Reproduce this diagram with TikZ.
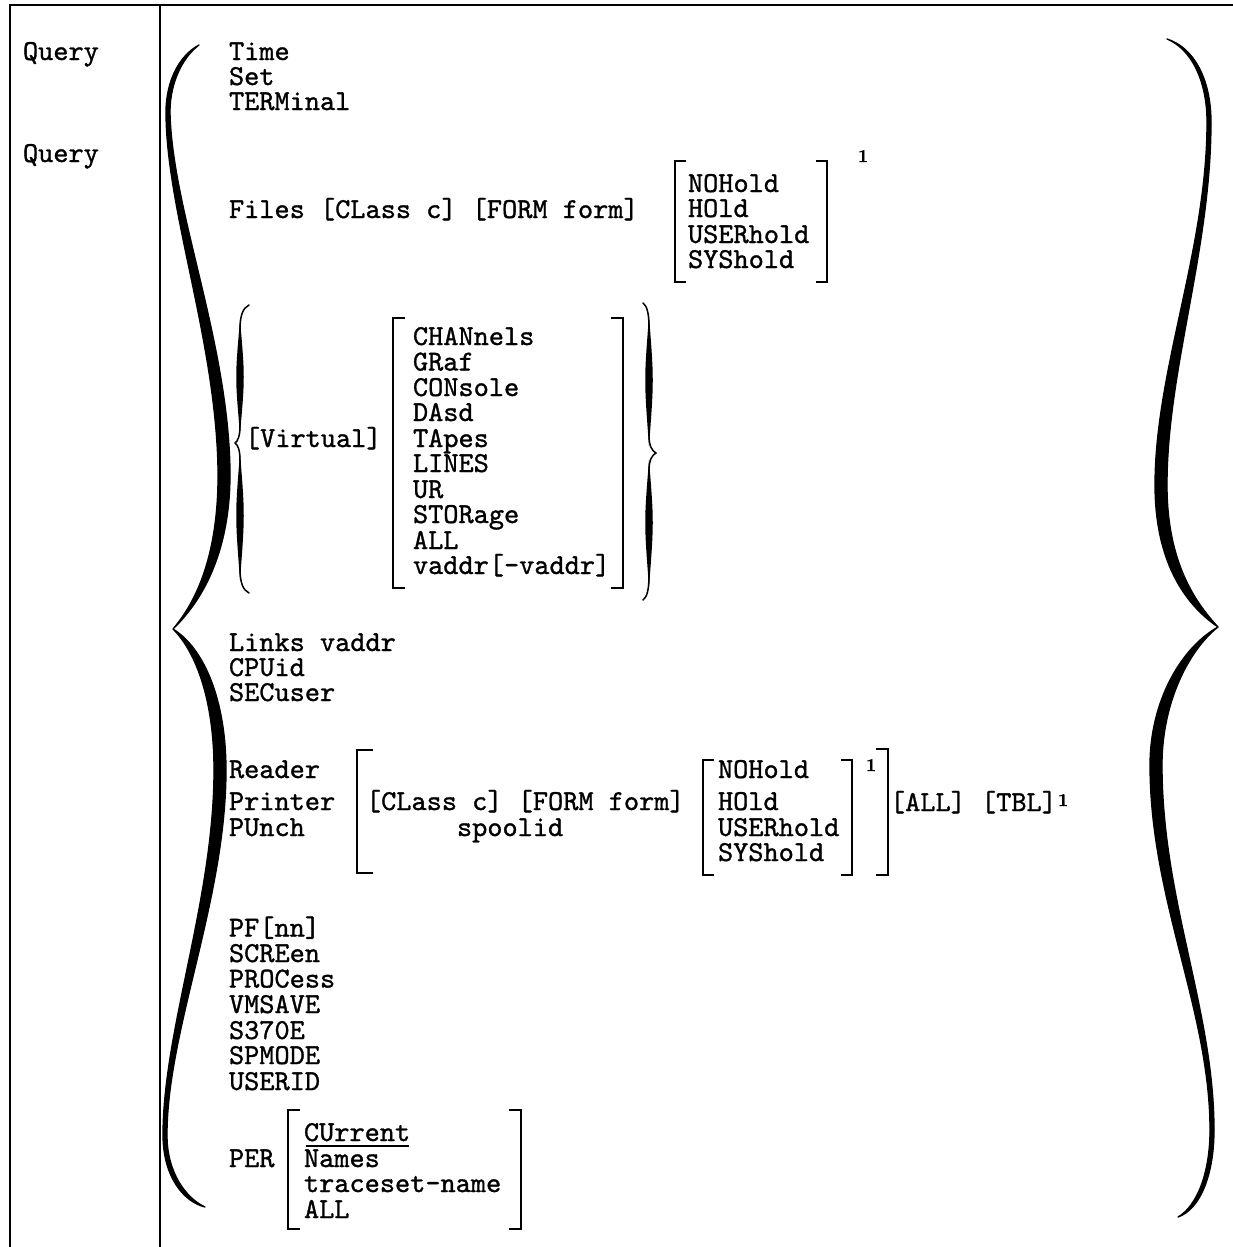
\documentclass[tikz,border=0pt]{standalone}
\usepackage{fontspec}
\newfontfamily\courfam[Extension=.otf, FakeBold=1.1]{lmmono10-regular}
\newfontfamily\supfam[Extension=.otf, FakeBold=1]{lmroman10-bold}
\newcommand\courfont{\courfam\fontsize{28.9}{28.9}\selectfont}
\newcommand\supfont{\supfam\fontsize{18}{18}\selectfont}
\tikzset{
  txt/.style={anchor=base west, inner sep=0pt, outer sep=0pt, text height=16pt, text depth=4pt, font=\courfont},
  supnum/.style={anchor=base west, inner sep=0pt, outer sep=0pt, font=\supfont},
  brk/.style={line width=2.8pt, line join=miter},
  framel/.style={line width=2pt},
  brc/.style={fill=black, draw=black, line width=1.3pt, line join=round, line cap=round},
  brcline/.style={draw=black, line width=1.5pt, line join=round, line cap=round}
}
\begin{document}
\begin{tikzpicture}[x=1pt,y=-1pt]
\useasboundingbox[fill=white] (0,0) rectangle (1233,1247);

% frame
\draw[framel] (10,1247) -- (10,5) -- (1233,5);
\draw[framel] (160,5) -- (160,1247);

% left column
\node[txt] (q1) at (23,60) {Query};
\node[txt] (q2) at (23,162) {Query};

% first group
\node[txt] (time) at (229,60) {Time};
\node[txt] (set) at (229,85) {Set};
\node[txt] (term) at (229,110) {TERMinal};

% Files
\node[txt] (files) at (229,218) {Files [CLass c] [FORM form]};
\draw[brk] (686,161) -- (675,161) -- (675,282) -- (686,282);
\draw[brk] (816,161) -- (827,161) -- (827,282) -- (816,282);
\node[txt] (fh1) at (688,192) {NOHold};
\node[txt] (fh2) at (688,217) {HOld};
\node[txt] (fh3) at (688,243) {USERhold};
\node[txt] (fh4) at (688,268) {SYShold};
\node[supnum] (fs1) at (858,162) {1};

% Virtual group
\node[txt] (virt) at (245,447) {[Virtual]};
\draw[brk] (405,318) -- (393,318) -- (393,588) -- (405,588);
\draw[brk] (611,318) -- (623,318) -- (623,588) -- (611,588);
\node[txt] (v1) at (413,345) {CHANnels};
\node[txt] (v2) at (413,370.5) {GRaf};
\node[txt] (v3) at (413,396) {CONsole};
\node[txt] (v4) at (413,421) {DAsd};
\node[txt] (v5) at (413,447) {TApes};
\node[txt] (v6) at (413,472) {LINES};
\node[txt] (v7) at (413,498) {UR};
\node[txt] (v8) at (413,523) {STORage};
\node[txt] (v9) at (413,549) {ALL};
\node[txt] (v10) at (413,574) {vaddr[-vaddr]};

% small left brace (Virtual)
\draw[brcline] (249,305) .. controls (243,308) and (240,315) .. (240,330) -- (240,425)
   .. controls (240,436) and (238,441) .. (235,443) .. controls (238,445) and (240,450) .. (240,461)
   -- (240,568) .. controls (240,583) and (243,590) .. (249,593);
\fill (240,320) .. controls (235,377) .. (240,434) .. controls (245,377) .. (240,320) -- cycle;
\fill (240,453) .. controls (235,515) .. (240,580) .. controls (245,515) .. (240,453) -- cycle;

% small right brace (Virtual)
\draw[brcline] (643,303) .. controls (647,306) and (649,313) .. (649,328) -- (649,435)
   .. controls (649,446) and (652,451) .. (656,453) .. controls (652,455) and (649,460) .. (649,471)
   -- (649,575) .. controls (649,590) and (647,597) .. (643,600);
\fill (649,316) .. controls (644,380) .. (649,446) .. controls (654,380) .. (649,316) -- cycle;
\fill (649,460) .. controls (644,522) .. (649,587) .. controls (654,522) .. (649,460) -- cycle;

% Links group
\node[txt] (links) at (229,651) {Links vaddr};
\node[txt] (cpu) at (229,676) {CPUid};
\node[txt] (sec) at (229,701) {SECuser};

% Reader group
\node[txt] (rdr) at (229,778) {Reader};
\node[txt] (prt) at (229,810) {Printer};
\node[txt] (pun) at (229,836) {PUnch};
\draw[brk] (373,750) -- (357,750) -- (357,873) -- (373,873);
\node[txt] (clf) at (366,810) {[CLass c] [FORM form]};
\node[txt] (spool) at (457,836) {spoolid};
\draw[brk] (714,760) -- (703,760) -- (703,875) -- (714,875);
\draw[brk] (841,760) -- (852,760) -- (852,875) -- (841,875);
\node[txt] (rh1) at (718,778) {NOHold};
\node[txt] (rh2) at (718,810) {HOld};
\node[txt] (rh3) at (718,836) {USERhold};
\node[txt] (rh4) at (718,861) {SYShold};
\node[supnum] (rs1) at (866,771) {1};
\draw[brk] (876,749) -- (888,749) -- (888,875) -- (876,875);
\node[txt] (alltbl) at (890,811) {[ALL] [TBL]};
\node[supnum] (rs2) at (alltbl.base east) [xshift=1pt, yshift=5pt] {1};

% PF group
\node[txt] (pf) at (229,936.5) {PF[nn]};
\node[txt] (scr) at (229,962) {SCREen};
\node[txt] (proc) at (229,987.5) {PROCess};
\node[txt] (vms) at (229,1013) {VMSAVE};
\node[txt] (s370) at (229,1039) {S370E};
\node[txt] (spm) at (229,1064) {SPMODE};
\node[txt] (uid) at (229,1090) {USERID};

% PER group
\node[txt] (per) at (229,1167) {PER};
\draw[brk] (300,1110) -- (288,1110) -- (288,1229) -- (300,1229);
\draw[brk] (509,1110) -- (521,1110) -- (521,1229) -- (509,1229);
\node[txt] (cur) at (304,1141) {CUrrent};
\draw[line width=1.5pt] ([xshift=2pt,yshift=-5pt]cur.base west) -- ([xshift=-1pt,yshift=-5pt]cur.base east);
\node[txt] (nam) at (304,1167) {Names};
\node[txt] (tsn) at (304,1192) {traceset-name};
\node[txt] (pall) at (304,1218) {ALL};

% big left brace
\filldraw[brc] (199,45) .. controls (180,55) and (166,80) .. (166,112)
  .. controls (166,210) and (216,340) .. (218,470)
  .. controls (219,555) and (196,602) .. (173,629)
  .. controls (200,603) and (231,555) .. (230,470)
  .. controls (228,340) and (172,210) .. (170,112)
  .. controls (170,82) and (183,57) .. (199,45) -- cycle;
\filldraw[brc] (173,629) .. controls (196,652) and (214,700) .. (214,770)
  .. controls (214,900) and (163,1030) .. (163,1135)
  .. controls (163,1177) and (184,1202) .. (205,1207)
  .. controls (186,1198) and (167,1173) .. (167,1135)
  .. controls (167,1030) and (226,900) .. (226,770)
  .. controls (226,700) and (204,648) .. (173,629) -- cycle;

% big right brace
\filldraw[brc] (1167,39) .. controls (1191,49) and (1207,80) .. (1207,122)
  .. controls (1207,250) and (1155,370) .. (1155,485)
  .. controls (1155,568) and (1190,608) .. (1218,627)
  .. controls (1195,602) and (1167,562) .. (1167,485)
  .. controls (1167,370) and (1211,250) .. (1211,122)
  .. controls (1211,78) and (1193,47) .. (1167,39) -- cycle;
\filldraw[brc] (1218,627) .. controls (1182,647) and (1150,700) .. (1150,765)
  .. controls (1150,900) and (1210,1010) .. (1210,1130)
  .. controls (1210,1173) and (1197,1206) .. (1178,1217)
  .. controls (1199,1210) and (1214,1177) .. (1214,1130)
  .. controls (1214,1010) and (1162,900) .. (1162,765)
  .. controls (1162,702) and (1189,650) .. (1218,627) -- cycle;
\end{tikzpicture}
\end{document}
